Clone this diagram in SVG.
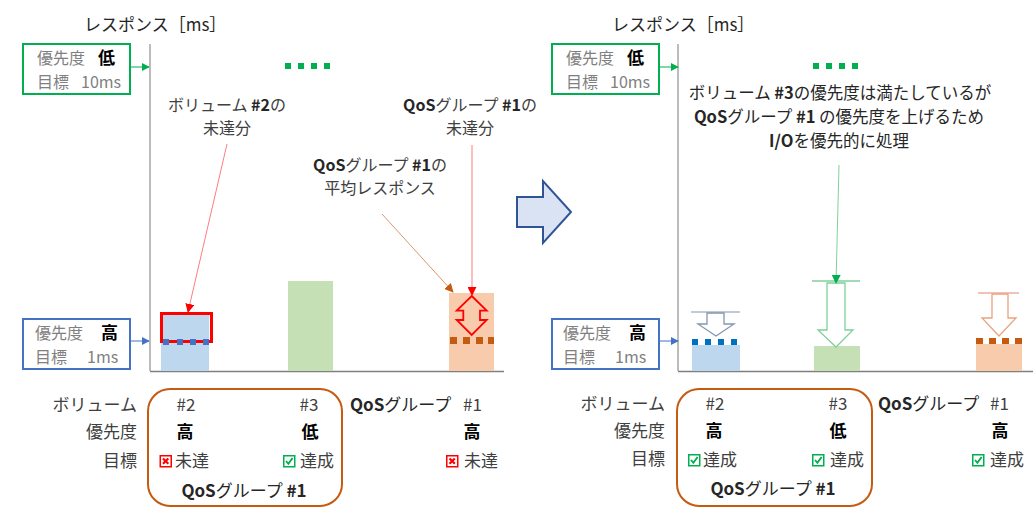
<svg xmlns="http://www.w3.org/2000/svg" width="1033" height="508" viewBox="0 0 1033 508">
<style>
text{font-family:"Noto Sans CJK JP","Noto Sans",sans-serif;font-size:17px;fill:#404040}
.a{font-size:16px}
.n{font-size:16.5px}
.t{fill:#262626}
.g{fill:#808080;font-size:16px}
.b{font-weight:bold;fill:#000}
.sb{font-weight:600;fill:#262626}
.m{text-anchor:middle}
.e{text-anchor:end}
.axis{stroke:#a6a6a6;stroke-width:1.5;fill:none}
.base{stroke:#7f7f7f;stroke-width:1.5;fill:none}
</style>
<defs>
<marker id="ag" viewBox="0 0 10 10" refX="9" refY="5" markerWidth="8" markerHeight="8" markerUnits="userSpaceOnUse" orient="auto"><path d="M0,0L10,5L0,10z" fill="#00b050"/></marker>
<marker id="ab" viewBox="0 0 10 10" refX="9" refY="5" markerWidth="8" markerHeight="8" markerUnits="userSpaceOnUse" orient="auto"><path d="M0,0L10,5L0,10z" fill="#4472c4"/></marker>
<marker id="ar" viewBox="0 0 10 10" refX="9" refY="5" markerWidth="9" markerHeight="9" markerUnits="userSpaceOnUse" orient="auto"><path d="M0,0L10,5L0,10z" fill="#ff0000"/></marker>
<marker id="ao" viewBox="0 0 10 10" refX="9" refY="5" markerWidth="9" markerHeight="9" markerUnits="userSpaceOnUse" orient="auto"><path d="M0,0L10,5L0,10z" fill="#c55a11"/></marker>
<marker id="ag2" viewBox="0 0 10 10" refX="9" refY="5" markerWidth="9" markerHeight="9" markerUnits="userSpaceOnUse" orient="auto"><path d="M0,0L10,5L0,10z" fill="#00b050"/></marker>
<g id="xbox"><rect x="0.75" y="0.75" width="11" height="11" fill="#fff" stroke="#ff0000" stroke-width="1.5"/><path d="M3.5,3.5L8.8,8.8M8.8,3.5L3.5,8.8" stroke="#ff0000" stroke-width="2.2"/></g>
<g id="cbox"><rect x="0.75" y="0.75" width="11" height="11" fill="#fff" stroke="#00b050" stroke-width="1.5"/><path d="M3,6L5.4,8.8L9.6,3" stroke="#00b050" stroke-width="1.9" fill="none"/></g>
<g id="gdots" fill="#00b050"><rect x="0" y="0" width="6" height="6"/><rect x="13" y="0" width="6" height="6"/><rect x="26" y="0" width="6" height="6"/><rect x="39" y="0" width="6" height="6"/></g>
</defs>

<!-- ===== Left panel ===== -->
<g id="left-title"><text class="t" x="84" y="31">レスポンス［ms］</text></g>
<g id="left-axes"><path class="axis" d="M150,44V371"/><path class="base" d="M150,371.5H504"/></g>

<g id="left-low-box">
<rect x="23" y="44" width="107" height="50" fill="#fff" stroke="#00b050" stroke-width="2"/>
<text class="g" x="37" y="64">優先度</text><text class="b" x="98" y="64">低</text>
<text class="g" x="37" y="87.5">目標</text><text class="g" x="81" y="87.5">10ms</text>
</g>
<g id="left-high-box">
<rect x="23" y="319" width="107" height="50" fill="#fff" stroke="#4472c4" stroke-width="2"/>
<text class="g" x="35" y="339">優先度</text><text class="b" x="101" y="339">高</text>
<text class="g" x="35" y="362.5">目標</text><text class="g" x="87" y="362.5">1ms</text>
</g>
<g id="left-top-dots"><use href="#gdots" x="285" y="63"/></g>

<g id="left-vol2-bar">
<rect x="161" y="312" width="48" height="59" fill="#bdd7ee"/>
<rect x="161.5" y="313.5" width="50" height="28" fill="none" stroke="#ff0000" stroke-width="3"/>
<g fill="#4472c4"><rect x="163" y="339" width="6" height="6"/><rect x="177" y="339" width="6" height="6"/><rect x="190" y="339" width="6" height="6"/><rect x="203" y="339" width="6" height="6"/></g>
</g>
<g id="left-vol3-bar"><rect x="288" y="281" width="45" height="90" fill="#c5e0b4"/></g>
<g id="left-qos-bar">
<rect x="449" y="293" width="45" height="78" fill="#f8cbad"/>
<g fill="#c55a11"><rect x="450" y="337" width="7" height="7"/><rect x="463" y="337" width="7" height="7"/><rect x="476" y="337" width="7" height="7"/><rect x="488" y="337" width="6" height="7"/></g>
<path d="M471.7,296L486.7,310.7H480V320H486.7L471.7,335L456.7,320H463.3V310.7H456.7Z" fill="none" stroke="#ff0000" stroke-width="1.8"/>
</g>

<g id="label-vol2"><text class="m a" x="227" y="110.5">ボリューム <tspan class="sb">#2</tspan>の</text><text class="m a" x="227" y="134">未達分</text></g>
<g id="label-qos-miss"><text class="m a" x="470" y="110.5"><tspan class="sb">QoS</tspan>グループ <tspan class="sb">#1</tspan>の</text><text class="m a" x="470" y="134">未達分</text></g>
<g id="label-qos-avg"><text class="m a" x="380" y="170.5"><tspan class="sb">QoS</tspan>グループ <tspan class="sb">#1</tspan>の</text><text class="m a" x="380" y="194">平均レスポンス</text></g>

<!-- left table -->
<g id="left-table">
<text class="e" x="137" y="411">ボリューム</text>
<text class="e" x="137" y="438">優先度</text>
<text class="e" x="137" y="467">目標</text>
<rect x="148" y="389" width="194" height="117" rx="22" fill="none" stroke="#c55a11" stroke-width="2"/>
<text class="m" x="186" y="411">#2</text>
<text class="m" x="309" y="411">#3</text>
<text class="m b" x="185" y="438">高</text>
<text class="m b" x="310" y="438">低</text>
<use href="#xbox" x="159.5" y="455"/><text x="175" y="467">未達</text>
<use href="#cbox" x="283" y="455"/><text x="300" y="467">達成</text>
<text class="m t" x="244" y="497"><tspan class="sb">QoS</tspan>グループ <tspan class="sb">#1</tspan></text>
<text class="t" x="350" y="411"><tspan class="sb">QoS</tspan>グループ</text>
<text x="463" y="411">#1</text>
<text class="m b" x="472" y="438">高</text>
<use href="#xbox" x="446" y="455"/><text x="464" y="467">未達</text>
</g>

<!-- center arrow -->
<g id="transition-arrow"><path d="M517,197H543V181L571,212L543,243V227H517Z" fill="#dae3f3" stroke="#2f5597" stroke-width="2"/></g>

<!-- ===== Right panel ===== -->
<g id="right-title"><text class="t" x="612" y="31">レスポンス［ms］</text></g>
<g id="right-axes"><path class="axis" d="M678,44V371"/><path class="base" d="M678,371.5H1033"/></g>

<g id="right-low-box">
<rect x="552" y="44" width="107" height="50" fill="#fff" stroke="#00b050" stroke-width="2"/>
<text class="g" x="566" y="64">優先度</text><text class="b" x="627" y="64">低</text>
<text class="g" x="566" y="87.5">目標</text><text class="g" x="610" y="87.5">10ms</text>
</g>
<g id="right-high-box">
<rect x="552" y="319" width="107" height="50" fill="#fff" stroke="#4472c4" stroke-width="2"/>
<text class="g" x="563" y="339">優先度</text><text class="b" x="629" y="339">高</text>
<text class="g" x="563" y="362.5">目標</text><text class="g" x="615" y="362.5">1ms</text>
</g>
<g id="right-top-dots"><use href="#gdots" x="813" y="63"/></g>

<g id="right-note">
<text class="m t n" x="840" y="99">ボリューム <tspan class="sb">#3</tspan>の優先度は満たしているが</text>
<text class="m t n" x="839" y="123"><tspan class="sb">QoS</tspan>グループ <tspan class="sb">#1</tspan> の優先度を上げるため</text>
<text class="m t n" x="839" y="147"><tspan class="sb">I/O</tspan>を優先的に処理</text>
</g>

<g id="right-vol2-bar">
<rect x="692" y="345" width="48" height="26" fill="#bdd7ee"/>
<g fill="#0070c0"><rect x="692" y="339" width="6" height="6"/><rect x="705" y="339" width="6" height="6"/><rect x="718" y="339" width="6" height="6"/><rect x="731" y="339" width="6" height="6"/></g>
<path d="M691,312H740" stroke="#adb9ca" stroke-width="1.5"/>
<path d="M707,313V324H698L716,336L734,324H724V313Z" fill="#fff" stroke="#8497b0" stroke-width="1.3"/>
</g>
<g id="right-vol3-bar">
<rect x="814" y="346" width="46" height="25" fill="#c5e0b4"/>
<path d="M812,281H860" stroke="#7fd09b" stroke-width="1.5"/>
<path d="M827,283V330H818L836,347L853,330H845V283Z" fill="#fff" stroke="#7fd09b" stroke-width="1.3"/>
</g>
<g id="right-qos-bar">
<rect x="976" y="344" width="46" height="27" fill="#f8cbad"/>
<g fill="#c55a11"><rect x="976" y="338" width="7" height="6"/><rect x="989" y="338" width="7" height="6"/><rect x="1002" y="338" width="7" height="6"/><rect x="1015" y="338" width="7" height="6"/></g>
<path d="M978,293H1019" stroke="#f0c2bc" stroke-width="2"/>
<path d="M992,294V318H982L999,336L1016,318H1008V294Z" fill="#fff" stroke="#e9a37f" stroke-width="1.3"/>
</g>

<!-- right table -->
<g id="right-table">
<text class="e" x="665" y="410">ボリューム</text>
<text class="e" x="665" y="437">優先度</text>
<text class="e" x="665" y="465">目標</text>
<rect x="677" y="389" width="195" height="117" rx="22" fill="none" stroke="#c55a11" stroke-width="2"/>
<text class="m" x="715" y="410">#2</text>
<text class="m" x="838" y="410">#3</text>
<text class="m b" x="714" y="437">高</text>
<text class="m b" x="838" y="437">低</text>
<use href="#cbox" x="688" y="454"/><text x="703" y="466">達成</text>
<use href="#cbox" x="812" y="454"/><text x="830" y="466">達成</text>
<text class="m t" x="773" y="495"><tspan class="sb">QoS</tspan>グループ <tspan class="sb">#1</tspan></text>
<text class="t" x="878" y="410"><tspan class="sb">QoS</tspan>グループ</text>
<text x="990" y="410">#1</text>
<text class="m b" x="1000" y="437">高</text>
<use href="#cbox" x="972" y="454"/><text x="990" y="466">達成</text>
</g>

<!-- connectors -->
<g id="connectors" fill="none">
<path d="M130,67H149" stroke="#00b050" stroke-width="1" marker-end="url(#ag)"/>
<path d="M130,341H149" stroke="#4472c4" stroke-width="1" marker-end="url(#ab)"/>
<path d="M659,67H678" stroke="#00b050" stroke-width="1" marker-end="url(#ag)"/>
<path d="M659,341H678" stroke="#4472c4" stroke-width="1" marker-end="url(#ab)"/>
<path d="M227,144L188,312" stroke="#ff7c80" stroke-width="1" marker-end="url(#ar)"/>
<path d="M472,145V295" stroke="#ff7c80" stroke-width="1" marker-end="url(#ar)"/>
<path d="M382,214L453,292" stroke="#d9966b" stroke-width="1" marker-end="url(#ao)"/>
<path d="M839,165L836,283" stroke="#7fd09b" stroke-width="1" marker-end="url(#ag2)"/>
</g>
</svg>
